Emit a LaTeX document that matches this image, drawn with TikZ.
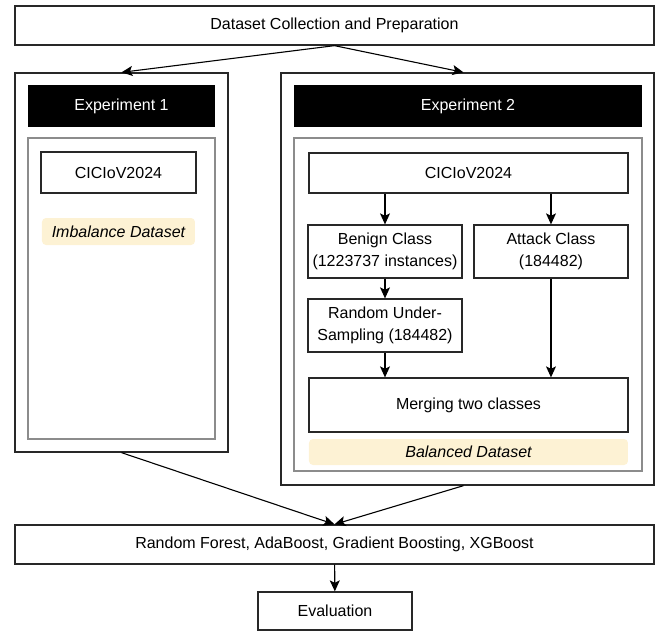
\documentclass[tikz,border=0pt]{standalone}
\usepackage{fontspec}
\setmainfont{Liberation Sans}
\usetikzlibrary{positioning, arrows.meta}
\definecolor{NoteYellow}{RGB}{253, 242, 212}
\definecolor{FrameGray}{RGB}{140, 140, 140}
\definecolor{LineGray}{RGB}{40, 40, 40}

\begin{document}
\begin{tikzpicture}[x=0.5pt, y=-0.5pt,
    box/.style={draw=LineGray, line width=0.65pt, inner sep=0pt, align=center, font=\fontsize{8}{10.8}\selectfont},
    headbox/.style={fill=black, inner sep=0pt, text=white, font=\fontsize{8}{10.8}\selectfont},
    panel/.style={draw=FrameGray, line width=0.9pt, inner sep=0pt},
    note/.style={fill=NoteYellow, rounded corners=2pt, inner sep=0pt, font=\fontsize{8}{10.8}\selectfont\itshape},
    arrow/.style={-{Stealth[length=5.5pt, width=5pt, inset=1.2pt]}, line width=0.55pt}]
    \useasboundingbox (0,0) rectangle (661,632);

    % Top
    \node[box, minimum width=319.5pt, minimum height=19.5pt] (prep) at (334.5, 25.5) {Dataset Collection and Preparation};

    % Experiment 1
    \node[box, minimum width=106.5pt, minimum height=189.5pt] (exp1) at (121.5, 262.5) {};
    \node[headbox, minimum width=93.5pt, minimum height=21pt] (head1) at (121.5, 106) {Experiment 1};
    \node[panel, minimum width=93.5pt, minimum height=150.5pt] (panel1) at (121.5, 288.5) {};
    \node[box, minimum width=77.5pt, minimum height=20.5pt] (data1) at (118.5, 172.5) {CICIoV2024};
    \node[note, minimum width=76.5pt, minimum height=13.5pt] (imb) at (118.5, 231.5) {Imbalance Dataset};

    % Experiment 2
    \node[box, minimum width=186.5pt, minimum height=206pt] (exp2) at (467.5, 279) {};
    \node[headbox, minimum width=174pt, minimum height=21pt] (head2) at (468, 106) {Experiment 2};
    \node[panel, minimum width=174pt, minimum height=166.5pt] (panel2) at (468, 304.5) {};
    \node[box, minimum width=159.5pt, minimum height=20pt] (data2) at (468.5, 173) {CICIoV2024};
    \node[box, minimum width=77pt, minimum height=26.5pt] (benign) at (385, 251.5) {Benign Class\\(1223737 instances)};
    \node[box, minimum width=77pt, minimum height=26.5pt] (attack) at (551, 251.5) {Attack Class\\(184482)};
    \node[box, minimum width=77pt, minimum height=26.5pt] (rus) at (385, 325.5) {Random Under-\\Sampling (184482)};
    \node[box, minimum width=159.5pt, minimum height=27pt] (merge) at (468.5, 405) {Merging two classes};
    \node[note, minimum width=159.5pt, minimum height=13pt] (bal) at (468.5, 452) {Balanced Dataset};

    % Bottom
    \node[box, minimum width=319.5pt, minimum height=19.5pt] (models) at (334.5, 544.5) {Random Forest, AdaBoost, Gradient Boosting, XGBoost};
    \node[box, minimum width=77pt, minimum height=19pt] (eval) at (335, 611) {Evaluation};

    % Arrows
    \draw[arrow] (prep.south) -- (exp1.north);
    \draw[arrow] (prep.south) -- ([xshift=-2pt]exp2.north);
    \draw[arrow] (data2.south -| benign.north) -- (benign.north);
    \draw[arrow] (data2.south -| attack.north) -- (attack.north);
    \draw[arrow] (benign) -- (rus);
    \draw[arrow] (rus.south) -- (rus.south |- merge.north);
    \draw[arrow] (attack.south) -- (attack.south |- merge.north);
    \draw[arrow] (exp1.south) -- (models.north);
    \draw[arrow] ([xshift=-2pt]exp2.south) -- (models.north);
    \draw[arrow] (models) -- (eval);
\end{tikzpicture}
\end{document}
